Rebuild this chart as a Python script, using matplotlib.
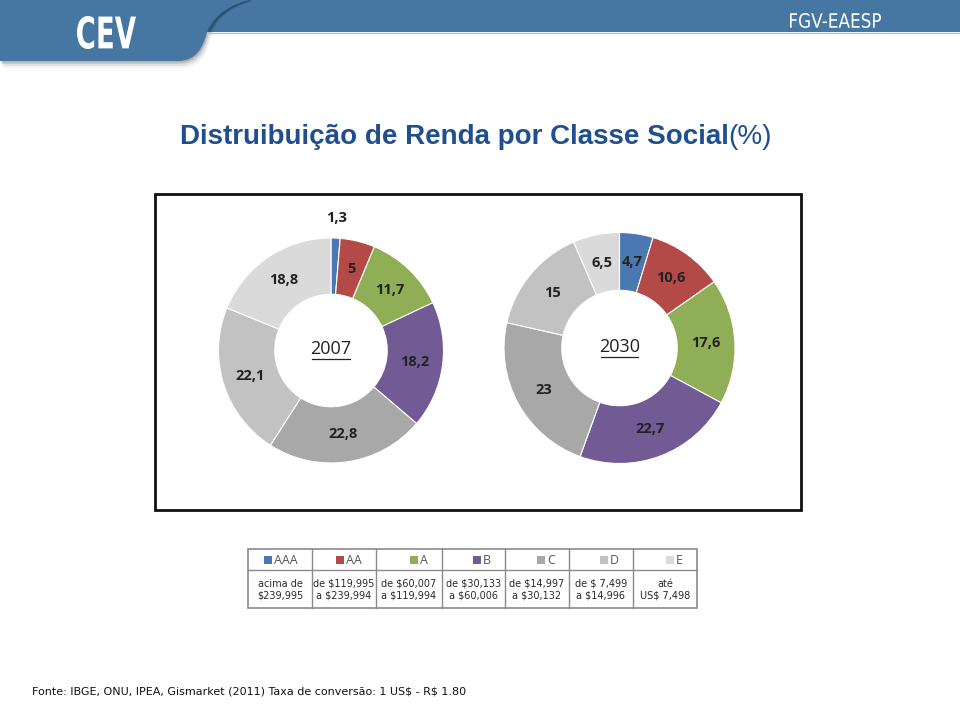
import numpy as np
import matplotlib.pyplot as plt
from matplotlib.patches import Rectangle, PathPatch
from matplotlib.path import Path
from matplotlib.textpath import TextPath
from matplotlib.font_manager import FontProperties
from matplotlib.transforms import Affine2D

# data
classes = ['AAA', 'AA', 'A', 'B', 'C', 'D', 'E']
share_2007 = [1.3, 5, 11.7, 18.2, 22.8, 22.1, 18.8]
share_2030 = [4.7, 10.6, 17.6, 22.7, 23, 15, 6.5]
income_ranges = ['acima de\n$239,995', 'de $119,995\na $239,994', 'de $60,007\na $119,994',
                 'de $30,133\na $60,006', 'de $14,997\na $30,132', 'de $ 7,499\na $14,996',
                 'até\nUS$ 7,498']
class_colors = ['#4a78b0', '#b34a47', '#8fae55', '#725a95', '#a8a8a8', '#c2c2c2', '#dadada']

W, H = 960, 704
fig = plt.figure(figsize=(W / 100, H / 100), dpi=100)
fig.patch.set_facecolor('white')

# background axes in pixel coords (y grows downwards)
bg = fig.add_axes([0, 0, 1, 1])
bg.set_xlim(0, W)
bg.set_ylim(H, 0)
bg.axis('off')

band_col = '#4677a2'


def tab_path(dx=0, dy=0):
    verts = [(0, 0), (250, 0),
             (232, 4), (214, 14), (207, 32),
             (203, 48), (196, 61), (178, 61),
             (0, 61), (0, 0)]
    codes = [Path.MOVETO, Path.LINETO,
             Path.CURVE4, Path.CURVE4, Path.CURVE4,
             Path.CURVE4, Path.CURVE4, Path.CURVE4,
             Path.LINETO, Path.CLOSEPOLY]
    return Path([(x + dx, y + dy) for x, y in verts], codes)


def boxed_text(s, x0, x1, y0, y1, bold=False):
    # squeeze a text path into a pixel box (gives the condensed logo look)
    tp = TextPath((0, 0), s, size=10,
                  prop=FontProperties(family='DejaVu Sans', weight='bold' if bold else 'normal'))
    ex = tp.get_extents()
    tr = (Affine2D().translate(-ex.x0, -ex.y0)
          .scale((x1 - x0) / ex.width, -(y1 - y0) / ex.height)
          .translate(x0, y1))
    bg.add_patch(PathPatch(tr.transform_path(tp), facecolor='white', edgecolor='none'))


# header band + CEV tab with a soft shadow
for k, a in [(7, 0.07), (5, 0.11), (3, 0.16), (1.5, 0.2)]:
    bg.add_patch(PathPatch(tab_path(k * 0.5, k), facecolor='#555555', edgecolor='none', alpha=a))
bg.add_patch(Rectangle((0, 0), W, 32, facecolor=band_col, edgecolor='none'))
bg.plot([207, W], [32.5, 32.5], color='#a9c3da', lw=1)
edge = Path([(248, 0), (232, 4), (214, 14), (207, 32)],
            [Path.MOVETO, Path.CURVE4, Path.CURVE4, Path.CURVE4])
for k, a in [(4, 0.15), (2.5, 0.3), (1.2, 0.45)]:
    bg.add_patch(PathPatch(Affine2D().translate(k, 0).transform_path(edge), facecolor='none',
                           edgecolor='#1e3a55', lw=2, alpha=a))
bg.add_patch(PathPatch(tab_path(), facecolor=band_col, edgecolor='none'))
boxed_text('CEV', 77, 136, 16, 49, bold=True)
boxed_text('FGV-EAESP', 790, 881, 13, 28)

# title
title_col = '#1f4f8f'
t1 = bg.text(0, 137, 'Distruibuição de Renda por Classe Social', color=title_col,
             fontsize=20, fontweight='bold', family='Liberation Sans', va='center')
t2 = bg.text(0, 137, '(%)', color=title_col, fontsize=20, family='Liberation Sans', va='center')
fig.canvas.draw()
r = fig.canvas.get_renderer()
w1 = t1.get_window_extent(r).width
w2 = t2.get_window_extent(r).width
x0 = 476 - (w1 + w2) / 2
t1.set_x(x0)
t2.set_x(x0 + w1)

# chart frame
bg.add_patch(Rectangle((155, 194), 646, 316, facecolor='white', edgecolor='#111111', lw=2))


def donut(cx, cy, rad, values, year):
    s = rad * 1.35
    ax = fig.add_axes([(cx - s) / W, 1 - (cy + s) / H, 2 * s / W, 2 * s / H])
    wedges, _ = ax.pie(values, colors=class_colors, startangle=90, counterclock=False,
                       radius=1, wedgeprops=dict(width=0.5, edgecolor='white', linewidth=0.8))
    ax.set_xlim(-1.35, 1.35)
    ax.set_ylim(-1.35, 1.35)
    ax.axis('off')
    for w, v in zip(wedges, values):
        ang = np.deg2rad((w.theta1 + w.theta2) / 2)
        d = 1.18 if v < 2 else 0.75
        ax.text(d * np.cos(ang), d * np.sin(ang), f'{v:g}'.replace('.', ','),
                ha='center', va='center', fontsize=10.5, fontweight='bold',
                family='Open Sans', color='#222222')
    t = ax.text(0, 0.01, str(year), ha='center', va='center', fontsize=13,
                family='Open Sans', color='#222222')
    return ax, t


ax1, c1 = donut(331, 350.5, 112.5, share_2007, 2007)
ax2, c2 = donut(619.5, 348, 115.5, share_2030, 2030)

# underline the year labels
fig.canvas.draw()
for t in (c1, c2):
    bb = t.get_window_extent(r)
    yb = H - bb.y0 + 1
    bg.plot([bb.x0 + 2, bb.x1 - 2], [yb, yb], color='#222222', lw=0.9)

# legend table
tx = [248, 312, 376, 442, 505, 569, 633, 697]
ty = [549, 570, 608]
tcol = '#8a8a8a'
bg.add_patch(Rectangle((tx[0], ty[0]), tx[-1] - tx[0], ty[-1] - ty[0], facecolor='white',
                       edgecolor=tcol, lw=1.2))
bg.plot([tx[0], tx[-1]], [ty[1], ty[1]], color=tcol, lw=1)
for x in tx[1:-1]:
    bg.plot([x, x], [ty[0], ty[-1]], color=tcol, lw=1)

for i, (name, col, rng) in enumerate(zip(classes, class_colors, income_ranges)):
    xr = tx[i + 1] - 14
    lt = bg.text(xr, (ty[0] + ty[1]) / 2 + 0.5, name, ha='right', va='center', fontsize=9,
                 family='Open Sans', color='#555555')
    lw_ = lt.get_window_extent(r).width
    bg.add_patch(Rectangle((xr - lw_ - 10, (ty[0] + ty[1]) / 2 - 4), 8, 8,
                           facecolor=col, edgecolor='none'))
    bg.text((tx[i] + tx[i + 1]) / 2, (ty[1] + ty[2]) / 2 + 0.5, rng, ha='center', va='center',
            fontsize=7, family='DejaVu Sans', color='#2a2a2a', linespacing=1.15,
            parse_math=False)

# source note
bg.text(32, 692, 'Fonte: IBGE, ONU, IPEA, Gismarket (2011) Taxa de conversão: 1 US$ - R$ 1.80',
        ha='left', va='center', fontsize=8, family='DejaVu Sans', color='#111111',
        parse_math=False)

fig.savefig('out.png', dpi=100)
